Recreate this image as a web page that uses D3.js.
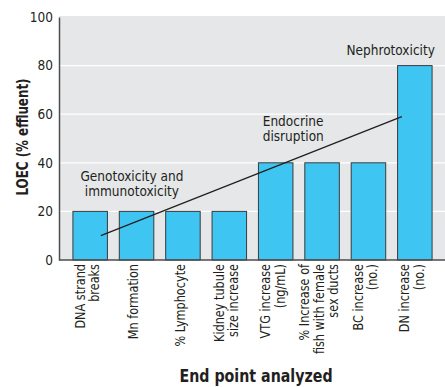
<!DOCTYPE html>
<html>
<head>
<meta charset="utf-8">
<script src="https://cdn.jsdelivr.net/npm/d3@7"></script>
<style>
  html, body { margin: 0; padding: 0; background: #fff; }
  svg { display: block; }
  text { font-family: "Liberation Sans Narrow", "DejaVu Sans Condensed", "DejaVu Sans", sans-serif; fill: #231f20; }
</style>
</head>
<body>
<svg id="chart" width="445" height="387"></svg>
<script>
// End points analyzed (multi-line labels)
const categories = [
  ["DNA strand", "breaks"],
  ["Mn formation"],
  ["% Lymphocyte"],
  ["Kidney tubule", "size increase"],
  ["VTG increase", "(ng/mL)"],
  ["% Increase of", "fish with female", "sex ducts"],
  ["BC increase", "(no.)"],
  ["DN increase", "(no.)"]
];
// LOEC, % effluent
const loec = [20, 20, 20, 20, 40, 40, 40, 80];
const yTicks = [0, 20, 40, 60, 80, 100];

// Trend line: fractional category position and LOEC value at each end
const trendIndex = [0.23, 6.72];
const trendValue = [10, 59];

// Effect group labels
const groupLabels = [
  ["Genotoxicity and", "immunotoxicity"],
  ["Endocrine", "disruption"],
  ["Nephrotoxicity"]
];

const svg = d3.select("#chart");
const plotL = 59, plotR = 445, plotT = 16, plotB = 260;

const x = d3.scaleBand()
  .domain(d3.range(categories.length))
  .range([plotL, plotR + 1])
  .paddingInner(0.256)
  .paddingOuter(0.3);

// continuous position across categories (index -> band centre)
const xPos = d3.scaleLinear()
  .domain([0, 1])
  .range([x(0) + x.bandwidth() / 2, x(1) + x.bandwidth() / 2]);

const y = d3.scaleLinear().domain([0, 100]).range([plotB, plotT + 1]);

// plot background
svg.append("rect")
  .attr("x", plotL).attr("y", plotT)
  .attr("width", plotR - plotL).attr("height", plotB - plotT)
  .attr("fill", "#e6e7e8");

// horizontal grid lines
svg.append("g")
  .selectAll("line")
  .data(yTicks.filter(d => d > 0 && d < 100))
  .join("line")
  .attr("x1", plotL).attr("x2", plotR)
  .attr("y1", d => y(d)).attr("y2", d => y(d))
  .attr("stroke", "#ffffff")
  .attr("stroke-width", 1.2);

// bars
svg.append("g")
  .selectAll("rect")
  .data(loec)
  .join("rect")
  .attr("x", (d, i) => x(i))
  .attr("y", d => y(d))
  .attr("width", x.bandwidth())
  .attr("height", d => y(0) - y(d))
  .attr("fill", "#3fc5f2")
  .attr("stroke", "#3a3a3c")
  .attr("stroke-width", 1);

// trend line
svg.append("line")
  .attr("x1", xPos(trendIndex[0])).attr("y1", y(trendValue[0]))
  .attr("x2", xPos(trendIndex[1])).attr("y2", y(trendValue[1]))
  .attr("stroke", "#231f20")
  .attr("stroke-width", 1.3);

// y axis
const yAxis = d3.axisLeft(y).tickValues(yTicks).tickSize(0).tickPadding(6);
const gy = svg.append("g").attr("transform", `translate(${plotL},0)`).call(yAxis);
gy.select(".domain").attr("stroke", "#4d4d4f").attr("stroke-width", 1.5);
gy.selectAll(".tick text")
  .attr("font-size", 13.5)
  .attr("font-family", null)
  .attr("fill", "#231f20");

// x axis baseline
svg.append("line")
  .attr("x1", plotL).attr("x2", plotR)
  .attr("y1", plotB).attr("y2", plotB)
  .attr("stroke", "#4d4d4f").attr("stroke-width", 1.5);

// rotated category labels
const lineGap = 14.5;
const catG = svg.append("g");
categories.forEach((lines, i) => {
  const cx = x(i) + x.bandwidth() / 2 - 3;
  const n = lines.length;
  lines.forEach((ln, j) => {
    const vc = cx + (j - (n - 1) / 2) * lineGap;
    const bx = vc + 4.6;
    catG.append("text")
      .attr("transform", `translate(${bx},${plotB + 4}) rotate(-90) scale(0.93,1)`)
      .attr("text-anchor", "end")
      .attr("font-size", 13.5)
      .text(ln);
  });
});

// group labels
const lab = svg.append("g").attr("font-size", 13.5);
function multi(lines, px, py, anchor) {
  const t = lab.append("text").attr("text-anchor", anchor);
  lines.forEach((ln, j) => {
    t.append("tspan").attr("x", px).attr("y", py + j * 15.3).text(ln);
  });
}
multi(groupLabels[0], xPos(0.9), y(32.5), "middle");
multi(groupLabels[1], xPos(3.72), y(55.3), "start");
multi(groupLabels[2], xPos(6.48), y(84.4), "middle");

// axis titles (condensed bold)
svg.append("text")
  .attr("transform", `translate(27.5,${(plotT + plotB) / 2 - 1}) rotate(-90) scale(0.8,1)`)
  .attr("text-anchor", "middle")
  .attr("font-size", 16.5)
  .attr("font-weight", "bold")
  .text("LOEC (% effluent)");

svg.append("text")
  .attr("transform", "translate(256,382) scale(0.93,1)")
  .attr("text-anchor", "middle")
  .attr("font-size", 17)
  .attr("font-weight", "bold")
  .text("End point analyzed");
</script>
</body>
</html>
